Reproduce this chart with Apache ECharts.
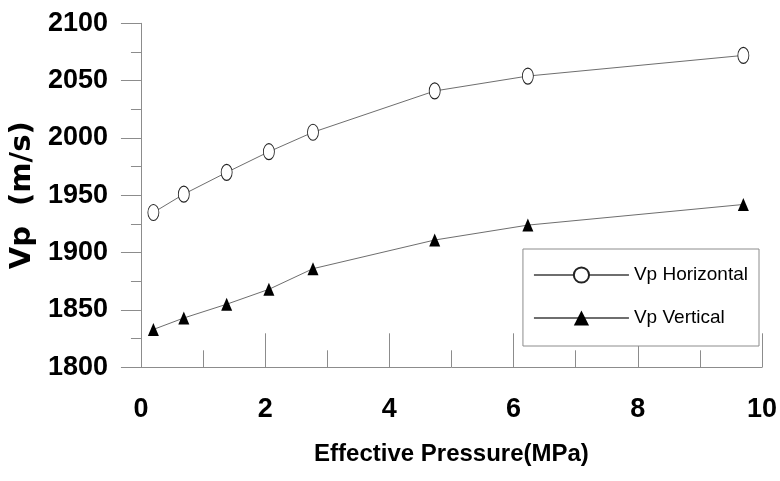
<!DOCTYPE html>
<html>
<head>
<meta charset="utf-8">
<script src="https://cdn.jsdelivr.net/npm/echarts@6/dist/echarts.min.js"></script>
<style>html,body{margin:0;padding:0;background:#fff}#c{width:780px;height:481px}</style>
</head>
<body>
<div id="c"></div>
<script>
const pressure = [0.2, 0.69, 1.38, 2.06, 2.77, 4.73, 6.23, 9.7];
const vpHorizontal = [1935, 1951, 1970, 1988, 2005, 2041, 2054, 2072];
const vpVertical = [1833, 1843, 1855, 1868, 1886, 1911, 1924, 1942];
const seriesNames = ['Vp Horizontal', 'Vp Vertical'];
const xTitle = 'Effective Pressure(MPa)';
const yTitle = 'Vp  (m/s)';

const chart = echarts.init(document.getElementById('c'));
const axisGray = '#8c8c8c';
const labelFont = {fontFamily: 'Liberation Sans', fontWeight: 'bold', fontSize: 27, color: '#000'};
chart.setOption({
  animation: false,
  backgroundColor: '#fff',
  grid: {left: 137.5, right: 17.5, top: 23.3, bottom: 113.7, containLabel: false},
  xAxis: {
    type: 'value', min: 0, max: 10, interval: 2,
    name: xTitle, nameLocation: 'middle', nameGap: 75,
    nameTextStyle: {fontFamily: 'Liberation Sans', fontWeight: 'bold', fontSize: 24, color: '#000'},
    axisLine: {show: true, onZero: false, lineStyle: {color: axisGray, width: 1}},
    axisTick: {show: true, inside: true, length: 34, lineStyle: {color: axisGray}},
    minorTick: {show: true, splitNumber: 2, length: 17, lineStyle: {color: axisGray}},
    splitLine: {show: false},
    axisLabel: Object.assign({margin: 29, formatter: v => String(v)}, labelFont)
  },
  yAxis: {
    type: 'value', min: 1800, max: 2100, interval: 50,
    name: yTitle, nameLocation: 'middle', nameGap: 94, nameRotate: 90,
    nameTextStyle: {fontFamily: 'DejaVu Sans', fontWeight: 'bold', fontSize: 29, color: '#000'},
    axisLine: {show: true, lineStyle: {color: axisGray, width: 1}},
    axisTick: {show: true, inside: false, length: 20, lineStyle: {color: axisGray}},
    minorTick: {show: true, splitNumber: 2, length: 10, lineStyle: {color: axisGray}},
    splitLine: {show: false},
    axisLabel: Object.assign({margin: 33, formatter: v => String(v)}, labelFont)
  },
  legend: {
    orient: 'vertical', right: 21, top: 249,
    backgroundColor: '#fff', borderColor: axisGray, borderWidth: 1,
    padding: [16.5, 11, 18.5, 10], itemGap: 24, itemWidth: 95, itemHeight: 19,
    textStyle: {fontFamily: 'Liberation Sans', fontSize: 19, color: '#000'},
    data: seriesNames
  },
  series: [
    {
      name: seriesNames[0], type: 'line',
      data: pressure.map((x, i) => [x, vpHorizontal[i]]),
      symbol: 'circle', symbolSize: [11, 16], showAllSymbol: true,
      lineStyle: {color: '#6e6e6e', width: 1},
      itemStyle: {color: '#fff', borderColor: '#222', borderWidth: 1}
    },
    {
      name: seriesNames[1], type: 'line',
      data: pressure.map((x, i) => [x, vpVertical[i]]),
      symbol: 'triangle', symbolSize: [11, 13], showAllSymbol: true,
      lineStyle: {color: '#6e6e6e', width: 1},
      itemStyle: {color: '#000', borderColor: '#000', borderWidth: 0}
    }
  ]
});
</script>
</body>
</html>
